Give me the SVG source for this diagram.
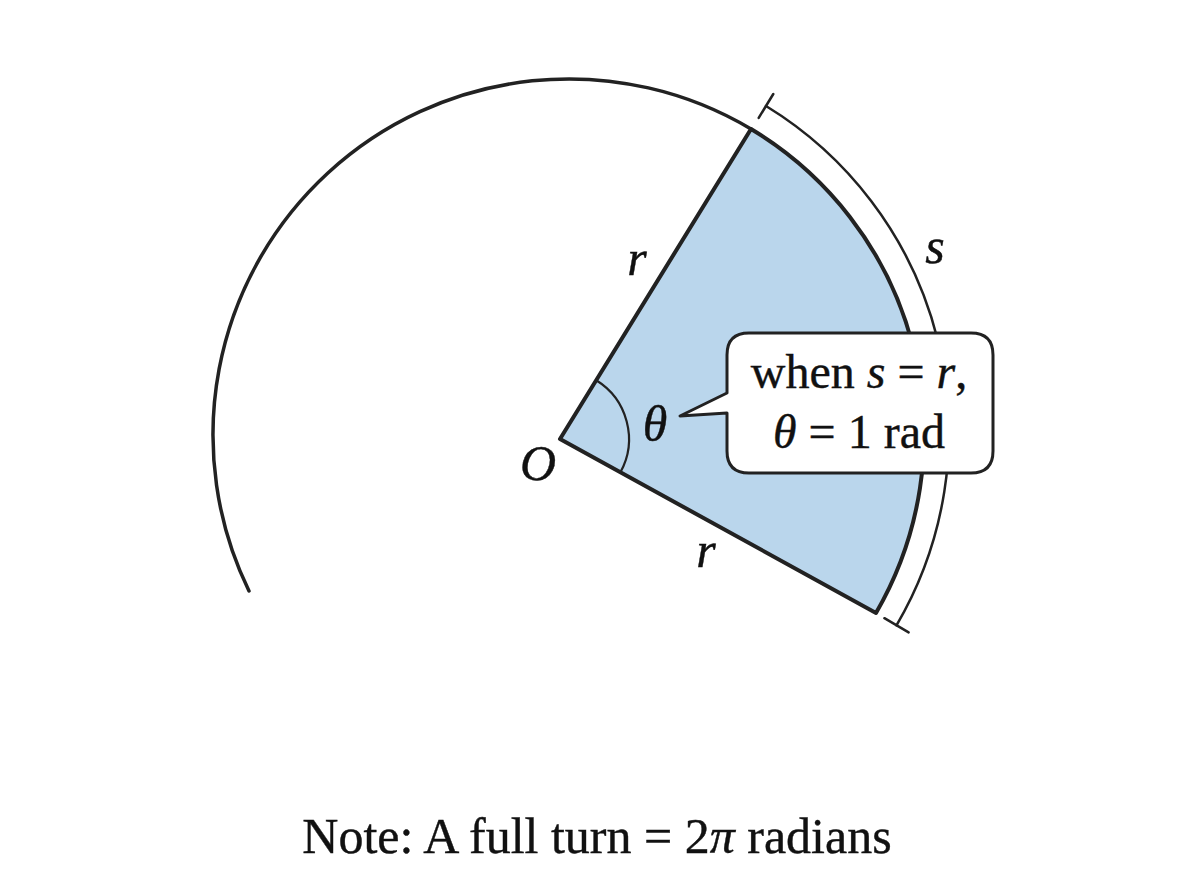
<svg xmlns="http://www.w3.org/2000/svg" width="1200" height="896" viewBox="0 0 1200 896">
<style>
.ln{fill:none;stroke:#222;stroke-linecap:round;stroke-linejoin:round}
.t{font-family:"Liberation Serif","Times New Roman",serif;fill:#111;stroke:#111;stroke-width:0.4}
.i{font-style:italic}
</style>
<rect width="1200" height="896" fill="#fff"/>
<g id="circle">
<path class="ln" stroke-width="3.5" d="M751,129 A356,356 0 0 0 249,591"/>
</g>
<g id="sector">
<path d="M560,439 L751,129 A356,356 0 0 1 876,613 Z" fill="#bad6ec" stroke="#222" stroke-width="4" stroke-linejoin="round"/>
<path class="ln" stroke-width="2.2" d="M596.2,380.3 A69,69 0 0 1 620.4,472.3"/>
</g>
<g id="arc-s">
<path class="ln" stroke-width="2.5" d="M766,106 A382,382 0 0 1 896.5,625.3"/>
<path class="ln" stroke-width="2.5" d="M758.7,117.9 L773.3,94 M884.4,618.2 L908.6,632.4"/>
</g>
<g id="labels">
<text class="t i" x="637" y="275" font-size="50" text-anchor="middle">r</text>
<text class="t i" x="706" y="567" font-size="50" text-anchor="middle">r</text>
<text class="t i" x="538" y="480" font-size="50" text-anchor="middle">O</text>
<text class="t i" x="655" y="441" font-size="50" text-anchor="middle">θ</text>
<text class="t i" x="935" y="263" font-size="50" text-anchor="middle">s</text>
</g>
<g id="callout">
<path d="M749,333 H971 Q993,333 993,355 V451 Q993,473 971,473 H749 Q727,473 727,451 V413 L680,416 L727,393 V355 Q727,333 749,333 Z" fill="#fff" stroke="#222" stroke-width="3" stroke-linejoin="round"/>
<text class="t" x="859" y="388" font-size="48" text-anchor="middle">when <tspan class="i">s</tspan> = <tspan class="i">r</tspan>,</text>
<text class="t" x="859" y="448" font-size="48" text-anchor="middle"><tspan class="i">θ</tspan> = 1 rad</text>
</g>
<g id="note">
<text class="t" x="597" y="853" font-size="50" text-anchor="middle">Note: A full turn = 2<tspan class="i">π</tspan> radians</text>
</g>
</svg>
